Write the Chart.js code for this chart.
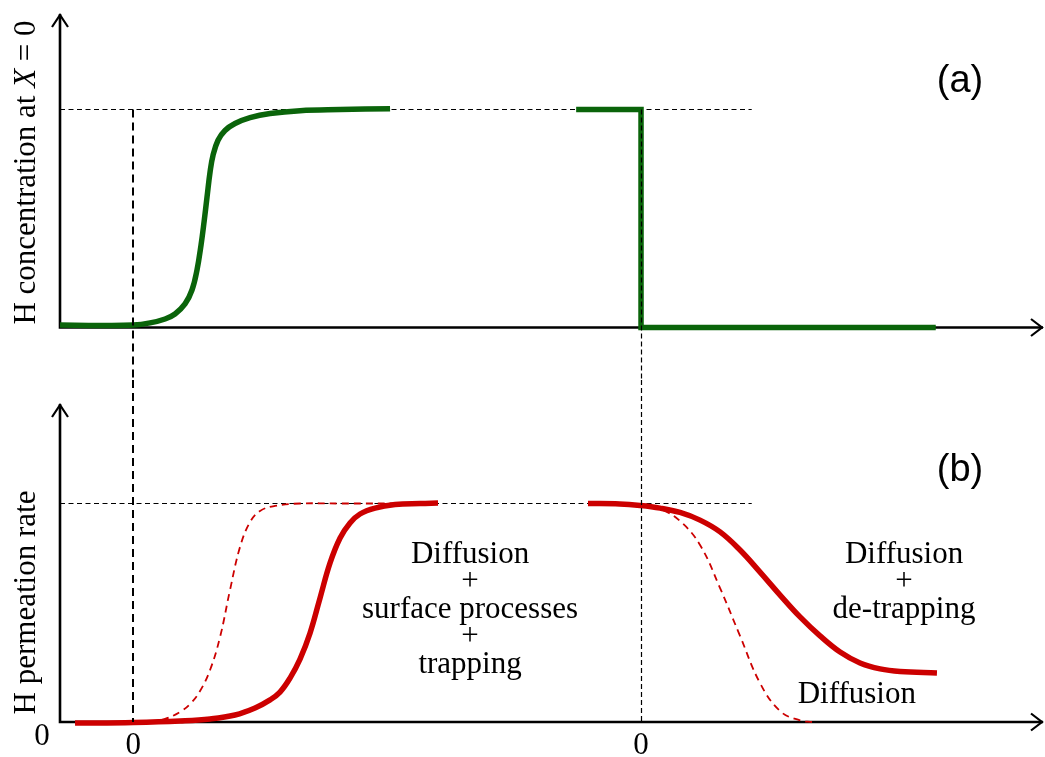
<!DOCTYPE html>
<html>
<head>
<meta charset="utf-8">
<script src="https://cdn.jsdelivr.net/npm/chart.js@4/dist/chart.umd.min.js"></script>
<style>
  html, body { margin: 0; padding: 0; background: #ffffff; }
  #figure { position: relative; width: 1045px; height: 757px; overflow: hidden; }
  #figure canvas { position: absolute; left: 0; }
</style>
</head>
<body>
<div id="figure">
  <canvas id="panelA" width="1045" height="380" style="top:0px"></canvas>
  <canvas id="panelB" width="1045" height="377" style="top:380px"></canvas>
</div>
<script>
// ---- time axis: charging starts at the first "0", discharging at the second ----
const xTickValues = [0, 72];
const xTickLabels = ['0', '0'];
const yTickValues = [0];
const yTickLabels = ['0'];
const steadyLevel = 1;       // normalised steady-state level
const steadyGuideEnd = 87.7; // where the steady-state guide stops on the time axis

// ---- (a) H concentration at the entry face ----
const concRiseT = [-10.4, -4.72, 0, 2.37, 4.5, 5.91, 7.33, 8.32, 9.03, 9.6, 10.03, 10.45, 10.88, 11.3, 12.01, 13.0, 14.42, 16.55, 19.39, 23.64, 29.32, 36.41];
const concRiseV = [0.011, 0.009, 0.011, 0.021, 0.039, 0.062, 0.108, 0.172, 0.264, 0.378, 0.484, 0.598, 0.713, 0.79, 0.859, 0.904, 0.936, 0.963, 0.982, 0.995, 1.0, 1.004];
const concStepT = [62.8, 72, 72, 113.8];
const concStepV = [1, 1, 0, 0];

// ---- (b) H permeation rate ----
// diffusion + surface processes + trapping (build-up)
const rateRiseT = [-8.27, 0, 6.62, 10.88, 14.42, 17.26, 19.39, 20.8, 22.22, 23.64, 25.06, 26.48, 27.9, 29.32, 30.73, 32.15, 34.28, 37.12, 40.66, 43.21];
const rateRiseV = [-0.005, -0.002, 0.005, 0.014, 0.032, 0.064, 0.101, 0.137, 0.201, 0.288, 0.407, 0.568, 0.728, 0.842, 0.911, 0.952, 0.979, 0.995, 1.0, 1.002];
// pure diffusion (build-up)
const diffRiseT = [2.38, 4.5, 6.62, 8.04, 9.46, 10.88, 12.3, 13.71, 15.13, 16.55, 17.97, 20.08, 23.64, 29.32, 40.66];
const diffRiseV = [0, 0.014, 0.046, 0.082, 0.142, 0.238, 0.389, 0.604, 0.801, 0.915, 0.966, 0.989, 1.0, 1.0, 1.0];
// diffusion + de-trapping (decay)
const rateDecayT = [64.48, 68.98, 71.86, 74.7, 77.53, 80.37, 83.21, 86.04, 88.88, 91.72, 94.55, 97.39, 100.23, 103.06, 105.9, 108.74, 113.97];
const rateDecayV = [1.0, 0.998, 0.991, 0.979, 0.959, 0.924, 0.87, 0.787, 0.686, 0.581, 0.481, 0.394, 0.32, 0.27, 0.243, 0.231, 0.224];
// pure diffusion (decay)
const diffDecayT = [71.86, 74.7, 77.53, 80.37, 83.21, 86.04, 88.88, 91.72, 94.55, 96.25];
const diffDecayV = [0.991, 0.975, 0.92, 0.81, 0.613, 0.394, 0.178, 0.05, 0.007, 0];

// ---- annotations in panel (b) ----
const noteMain = ['Diffusion', '+', 'surface processes', '+', 'trapping'];
const noteDetrap = ['Diffusion', '+', 'de-trapping'];
const noteDiff = ['Diffusion'];

const GREEN = '#0a640a';
const RED = '#cc0000';
const SERIF = '"Liberation Serif", "Times New Roman", Times, serif';
const SANS = '"Liberation Sans", Arial, Helvetica, sans-serif';

const pts = (t, v) => t.map((x, i) => ({ x, y: v[i] }));

// smooth transient curve style
const smooth = { tension: 0.4, cubicInterpolationMode: 'default', borderCapStyle: 'butt', clip: false };

function drawRotatedTitle(ctx, segments, cx, cy) {
  ctx.save();
  ctx.translate(cx, cy);
  ctx.rotate(-Math.PI / 2);
  ctx.fillStyle = '#000';
  ctx.textBaseline = 'alphabetic';
  ctx.textAlign = 'left';
  let total = 0;
  const widths = segments.map(s => { ctx.font = s.font; const w = ctx.measureText(s.text).width; total += w; return w; });
  let x = -total / 2;
  segments.forEach((s, i) => { ctx.font = s.font; ctx.fillText(s.text, x, 0); x += widths[i]; });
  ctx.restore();
}

// axes with open arrow heads, plus dashed steady-state guide
function makeFramePlugin(cfg) {
  return {
    id: 'frame',
    beforeDatasetsDraw(chart) {
      const { ctx, chartArea: a, scales: { x, y } } = chart;
      const x0 = a.left, y0 = y.getPixelForValue(0);
      ctx.save();
      // steady-state guide
      ctx.strokeStyle = '#000';
      ctx.lineWidth = 1.1;
      ctx.setLineDash([5, 3.5]);
      const yl = y.getPixelForValue(steadyLevel);
      ctx.beginPath();
      ctx.moveTo(x0, yl);
      ctx.lineTo(x.getPixelForValue(steadyGuideEnd), yl);
      ctx.stroke();
      // axes
      ctx.setLineDash([]);
      ctx.lineWidth = 2.6;
      ctx.lineJoin = 'miter';
      ctx.lineCap = 'butt';
      ctx.beginPath();
      ctx.moveTo(x0, y0 + 1.3);
      ctx.lineTo(x0, a.top + 1);
      ctx.moveTo(x0 - 1.3, y0);
      ctx.lineTo(a.right - 1, y0);
      ctx.stroke();
      ctx.lineWidth = 2.2;
      ctx.beginPath();
      ctx.moveTo(x0 - 8, a.top + 14);
      ctx.lineTo(x0, a.top + 2);
      ctx.lineTo(x0 + 8, a.top + 14);
      ctx.moveTo(a.right - 13, y0 - 8.5);
      ctx.lineTo(a.right - 2, y0);
      ctx.lineTo(a.right - 13, y0 + 8.5);
      ctx.stroke();
      ctx.restore();
    },
    afterDatasetsDraw(chart) {
      const { ctx, scales: { x } } = chart;
      const yFrom = cfg.guideFrom(chart), yTo = cfg.guideTo(chart);
      ctx.save();
      ctx.strokeStyle = '#000';
      // origin of the charging transient
      ctx.lineWidth = 2;
      ctx.setLineDash([8, 5]);
      let px = Math.round(x.getPixelForValue(xTickValues[0]));
      ctx.beginPath(); ctx.moveTo(px, yFrom); ctx.lineTo(px, yTo); ctx.stroke();
      // origin of the discharging transient
      ctx.lineWidth = 1.2;
      ctx.setLineDash([5, 3]);
      px = Math.round(x.getPixelForValue(xTickValues[1])) + 0.5;
      ctx.beginPath(); ctx.moveTo(px, yFrom); ctx.lineTo(px, yTo); ctx.stroke();
      ctx.restore();
    },
    afterDraw(chart) {
      const { ctx } = chart;
      ctx.save();
      // panel letter
      ctx.fillStyle = '#000';
      ctx.font = '38px ' + SANS;
      ctx.textAlign = 'center';
      ctx.textBaseline = 'alphabetic';
      ctx.fillText(cfg.panel, chart.chartArea.right - 84, cfg.panelBaseline);
      ctx.restore();
      drawRotatedTitle(ctx, cfg.title, 35, cfg.titleCenter);
      if (cfg.extra) cfg.extra(chart);
    }
  };
}

function baseOptions(yMax, padding) {
  return {
    responsive: false,
    animation: false,
    events: [],
    layout: { padding },
    plugins: { legend: { display: false }, tooltip: { enabled: false } },
    elements: { point: { radius: 0 } },
    scales: {
      x: { type: 'linear', min: -10.4, max: 129.15, display: false },
      y: { type: 'linear', min: 0, max: yMax, display: false }
    }
  };
}

// ---------- panel (a) ----------
new Chart(document.getElementById('panelA'), {
  type: 'line',
  data: {
    datasets: [
      { data: pts(concRiseT, concRiseV), borderColor: GREEN, borderWidth: 5.5, ...smooth },
      { data: pts(concStepT, concStepV), borderColor: GREEN, borderWidth: 5.5, tension: 0, borderJoinStyle: 'miter', borderCapStyle: 'butt', clip: false }
    ]
  },
  options: baseOptions(1.443, { left: 60, right: 1, top: 13, bottom: 52.5 }),
  plugins: [makeFramePlugin({
    panel: '(a)',
    panelBaseline: 92,
    titleCenter: 172.5,
    title: [
      { text: 'H concentration at ', font: '31px ' + SERIF },
      { text: 'X', font: 'italic 31px ' + SERIF },
      { text: ' = 0', font: '31px ' + SERIF }
    ],
    guideFrom: c => c.scales.y.getPixelForValue(steadyLevel),
    guideTo: c => c.height
  })]
});

// ---------- panel (b) ----------
function drawLines(ctx, lines, cx, baseline, step) {
  lines.forEach((s, i) => ctx.fillText(s, cx, baseline + i * step));
}

new Chart(document.getElementById('panelB'), {
  type: 'line',
  data: {
    datasets: [
      { data: pts(diffRiseT, diffRiseV), borderColor: RED, borderWidth: 1.8, borderDash: [7, 5], ...smooth },
      { data: pts(diffDecayT, diffDecayV), borderColor: RED, borderWidth: 1.8, borderDash: [7, 5], ...smooth },
      { data: pts(rateRiseT, rateRiseV), borderColor: RED, borderWidth: 5.5, ...smooth },
      { data: pts(rateDecayT, rateDecayV), borderColor: RED, borderWidth: 5.5, ...smooth }
    ]
  },
  options: baseOptions(1.46, { left: 60, right: 1, top: 23, bottom: 35 }),
  plugins: [makeFramePlugin({
    panel: '(b)',
    panelBaseline: 100.5,
    titleCenter: 222.5,
    title: [{ text: 'H permeation rate', font: '31px ' + SERIF }],
    guideFrom: () => 0,
    guideTo: c => c.scales.y.getPixelForValue(0),
    extra(chart) {
      const { ctx, scales: { x, y } } = chart;
      ctx.save();
      ctx.fillStyle = '#000';
      ctx.font = '31px ' + SERIF;
      ctx.textAlign = 'center';
      ctx.textBaseline = 'middle';
      // time-axis origins
      xTickValues.forEach((v, i) => ctx.fillText(xTickLabels[i], x.getPixelForValue(v), y.getPixelForValue(0) + 24));
      // rate-axis origin
      yTickValues.forEach((v, i) => ctx.fillText(yTickLabels[i], chart.chartArea.left - 18, y.getPixelForValue(v) + 15));
      // process annotations
      ctx.textBaseline = 'alphabetic';
      drawLines(ctx, noteMain, x.getPixelForValue(47.75), y.getPixelForValue(0.728), 27.5);
      drawLines(ctx, noteDetrap, x.getPixelForValue(109.3), y.getPixelForValue(0.728), 27.5);
      drawLines(ctx, noteDiff, x.getPixelForValue(102.6), y.getPixelForValue(0.087), 27.5);
      ctx.restore();
    }
  })]
});
</script>
</body>
</html>
